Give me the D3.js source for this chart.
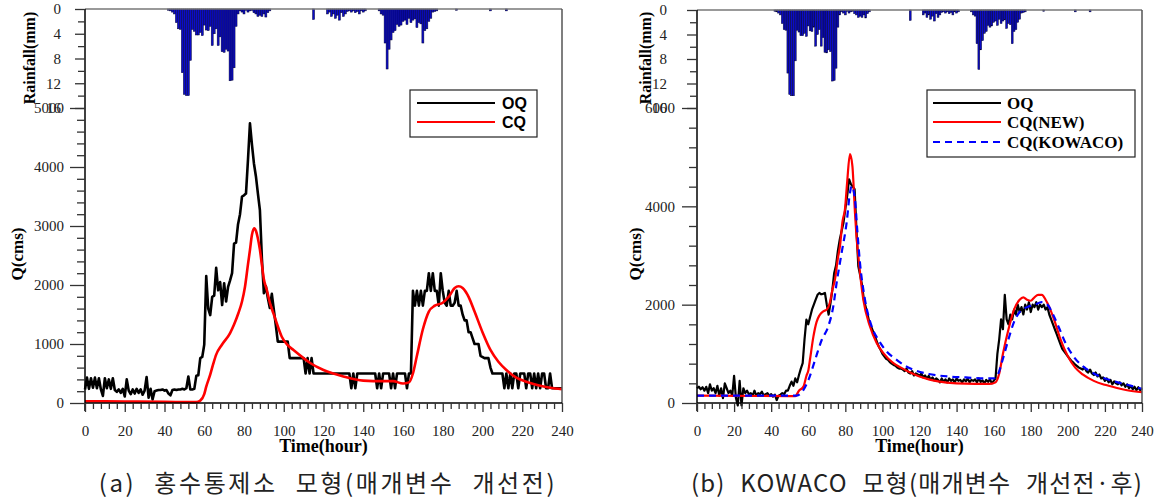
<!DOCTYPE html>
<html>
<head>
<meta charset="utf-8">
<script src="https://d3js.org/d3.v7.min.js"></script>
<style>
body { margin: 0; background: #fff; }
text { font-family: "Liberation Serif", "Times New Roman", serif; }
</style>
</head>
<body>
<script>
var w = 1161;
var h = 500;

// hourly rainfall (hour, mm)
var rainfall = [
  [42,0.2],[43,0.3],[44,0.5],[45,0.8],[46,2.2],[47,3.2],[48,3.3],[49,10.3],[50,13.8],[51,14],
  [52,14],[53,8.3],[54,3.3],[55,3.6],[56,4.2],[57,4.2],[58,3.8],[59,4.3],[60,2.6],[61,3.4],
  [62,3.5],[63,2.8],[64,5.9],[65,4],[66,3.2],[67,5.9],[68,4.5],[69,6.9],[70,7],[71,6.5],
  [72,6.8],[73,11.6],[74,11.5],[75,9.5],[76,2.8],[77,0.8],[78,0.3],[79,0.5],[80,0.8],[81,0.2],
  [82,0.5],[83,0.3],[84,0.2],[85,0.6],[86,0.8],[87,1.2],[88,1.0],[89,1.2],[90,0.8],[91,1.3],
  [92,0.6],[93,0.3],[115,1.7],[122,0.8],[123,0.5],[124,1.2],[125,0.8],[126,1.5],[127,1.0],
  [128,1.8],[129,0.6],[130,1.2],[131,0.8],[132,0.4],[133,0.3],[134,0.5],[135,0.3],[136,0.6],
  [137,0.4],[138,0.8],[139,0.3],[140,0.5],[141,0.3],[148,0.3],[149,0.8],[150,1.0],[151,5.5],
  [152,9.7],[153,6.5],[154,5.0],[155,3.8],[156,3.5],[157,2.5],[158,2.8],[159,2.6],[160,2.0],
  [161,1.8],[162,2.5],[163,1.5],[164,2.2],[165,1.8],[166,1.6],[167,3.0],[168,2.2],[169,2.4],
  [170,5.5],[171,3.5],[172,3.2],[173,2.0],[174,1.5],[175,0.5],[176,0.4],[177,0.3],[187,0.2],
  [204,0.3],[212,0.3]
];

// (a) observed and computed discharge
var oqA = [
  [0,230],[1,430],[2,240],[3,420],[4,260],[5,430],[6,250],[7,420],[8,230],[9,120],
  [10,420],[11,250],[12,400],[13,240],[14,420],[15,220],[16,190],[17,230],[18,170],[19,240],
  [20,110],[21,400],[22,210],[23,150],[24,230],[25,160],[26,240],[27,170],[28,230],[29,140],
  [30,210],[31,440],[32,90],[33,240],[34,60],[35,200],[36,210],[37,220],[38,220],[39,230],
  [40,210],[41,220],[42,160],[43,130],[44,220],[45,230],[46,220],[47,230],[48,230],[49,240],
  [50,230],[51,250],[52,450],[53,230],[54,230],[55,240],[56,460],[57,470],[58,760],[59,780],
  [60,990],[61,2150],[62,1600],[63,1490],[64,1800],[65,1820],[66,2290],[67,1910],[68,2050],[69,1660],
  [70,2030],[71,1720],[72,1970],[73,2080],[74,2200],[75,2700],[76,2720],[77,3030],[78,3200],[79,3500],
  [80,3520],[81,3550],[82,4120],[83,4740],[84,4380],[85,4060],[86,3840],[87,3550],[88,3270],[89,2450],
  [90,1860],[91,1980],[92,1780],[93,1610],[94,1850],[95,1580],[96,1320],[97,1040],[102,1040],[103,760],
  [110,760],[111,500],[112,760],[113,500],[114,760],[115,500],[133,500],[134,250],[135,500],[136,250],
  [137,500],[146,500],[147,250],[148,500],[149,250],[150,500],[153,500],[154,250],[155,500],[156,250],
  [157,500],[161,500],[162,250],[163,500],[164,500],[165,1900],[166,1650],[167,1900],[168,1650],[169,1900],
  [170,1650],[171,1900],[172,1900],[173,2200],[174,1900],[175,2200],[176,1900],[177,1900],[178,1650],[179,2200],
  [180,1900],[181,1700],[182,1650],[183,1900],[184,1650],[185,1650],[186,1700],[187,1900],[188,1650],[189,1650],
  [190,1500],[191,1400],[192,1400],[193,1200],[194,1200],[195,1100],[196,1000],[198,1000],[199,800],[201,760],
  [203,760],[204,600],[205,500],[210,500],[211,250],[212,500],[213,250],[214,500],[215,250],[216,500],
  [217,500],[218,250],[219,500],[221,500],[222,250],[223,500],[224,500],[225,250],[226,500],[227,250],
  [228,500],[229,250],[230,500],[231,500],[232,250],[233,250],[234,500],[235,250],[240,250]
];
var cqA = [
  [0,30],[20,25],[40,20],[56,15],[58,40],[60,150],[61,277],[63,480],[64.6,672],[66,820],
  [68.8,983],[73,1186],[75,1330],[77.2,1525],[79,1720],[80.5,1971],[82,2350],[83,2593],[84,2850],[85.1,2960],
  [86,2920],[86.8,2819],[88,2600],[88.9,2370],[90,2100],[91.5,1915],[93,1700],[94.8,1520],[97,1300],[99,1124],
  [102,980],[104.9,898],[110,760],[113.3,678],[120,560],[125,500],[130,450],[140,380],[150,370],[155,370],
  [160,330],[163,350],[165,500],[167,800],[170,1250],[173,1550],[176,1650],[180,1700],[183,1800],[186,1950],
  [188,1980],[190,1950],[193,1800],[196,1550],[200,1200],[204,900],[208,700],[212,560],[217,430],[222,360],
  [228,300],[234,260],[240,235]
];

// (b) observed and computed discharge
var oqB = [
  [0,300],[1,330],[2,280],[3,320],[4,250],[5,330],[6,200],[7,380],[8,250],[9,300],
  [10,200],[11,350],[12,150],[13,300],[14,100],[15,400],[16,300],[17,200],[18,250],[19,150],
  [20,550],[21,100],[22,-50],[23,450],[24,-50],[25,300],[26,200],[27,250],[28,180],[29,200],
  [30,150],[31,250],[32,150],[33,200],[34,180],[35,230],[36,150],[37,180],[38,200],[39,150],
  [40,180],[41,130],[42,170],[43,60],[44,150],[45,170],[46,200],[47,180],[48,250],[49,250],
  [50,350],[51,435],[52,350],[53,500],[54,420],[55,570],[56,700],[57,810],[58,1300],[59,1694],
  [60,1600],[61,1750],[62,1898],[63,2000],[64,2102],[65,2200],[66,2238],[67,2211],[68,2220],[69,2238],
  [70,2000],[71,1796],[72,2034],[73,2300],[74,2646],[75,2800],[76,3100],[77,3327],[78,3500],[79,3667],
  [80,3950],[81,4211],[82,4551],[83,4450],[84,4400],[85,4350],[86,3531],[87,2782],[88,2600],[89,2400],
  [90,2100],[91,1950],[92,1800],[93,1626],[94,1550],[95,1450],[96,1354],[97,1250],[98,1150],[99,1082],
  [100,1000],[101,950],[102,900],[103,878],[104,830],[105,800],[106,775],[107,760],[108,720],[109,700],
  [110,700],[111,680],[112,650],[113,700],[114,620],[115,600],[116,650],[117,560],[118,600],[119,580],
  [120,550],[121,600],[122,520],[123,560],[124,500],[125,550],[126,480],[127,520],[128,460],[129,500],
  [130,470],[131,420],[132,500],[133,430],[134,480],[135,420],[136,500],[137,450],[138,480],[139,420],
  [140,500],[141,450],[142,470],[143,420],[144,480],[145,440],[146,500],[147,420],[148,470],[149,450],
  [150,480],[151,420],[152,500],[153,430],[154,460],[155,400],[156,470],[157,430],[158,480],[159,400],
  [160,450],[161,500],[162,1000],[163,1300],[164,1700],[165,1500],[166,2200],[167,1700],[168,1600],[169,1800],
  [170,1700],[171,1900],[172,1800],[173,2000],[174,1850],[175,1950],[176,1800],[177,2000],[178,1900],[179,2050],
  [180,1850],[181,2000],[182,1950],[183,2050],[184,1900],[185,2000],[186,1950],[187,2000],[188,1900],[189,1950],
  [190,1800],[191,1700],[192,1600],[193,1500],[194,1400],[195,1300],[196,1200],[197,1100],[198,1050],[199,1000],
  [200,950],[201,900],[202,850],[203,820],[204,780],[205,750],[206,720],[207,700],[208,680],[209,720],
  [210,650],[211,620],[212,680],[213,600],[214,570],[215,620],[216,540],[217,580],[218,500],[219,520],
  [220,450],[221,500],[222,420],[223,470],[224,380],[225,440],[226,400],[227,380],[228,420],[229,360],
  [230,400],[231,330],[232,380],[233,300],[234,350],[235,280],[236,330],[237,260],[238,320],[239,260],[240,300]
];
var cqNewB = [
  [0,150],[50,140],[53,140],[55,250],[57.4,333],[59,550],[60.1,673],[61,900],[62.8,1354],[64.5,1650],
  [66,1780],[68.1,1864],[70,1900],[71.6,2034],[73,2300],[74.4,2510],[76,2950],[77.1,3190],[78.5,3700],[79.8,3939],
  [81,4500],[82.5,5061],[83.8,4823],[85.2,3871],[86,3400],[87,2986],[89.7,2102],[93.3,1557],[96.9,1218],[100.5,1014],
  [105.9,810],[110,720],[115,620],[120,540],[125,480],[130,440],[140,400],[150,390],[158,390],[161,420],
  [163,600],[165,1000],[168,1500],[171,1900],[174,2100],[176,2150],[178,2100],[180,2080],[182,2150],[184,2200],
  [186,2200],[188,2100],[190,1950],[193,1650],[196,1300],[200,950],[204,720],[208,580],[214,450],[220,370],
  [226,310],[232,260],[240,220]
];
var cqKowacoB = [
  [0,150],[53.8,150],[57.4,265],[60.1,469],[63.7,878],[67.3,1286],[70.8,1557],[73.5,1965],[75.3,2442],[78,3054],
  [80.7,3667],[82.5,4279],[83.4,4415],[85.2,4143],[86.4,3531],[87.9,2850],[90.6,2102],[94.2,1557],[97.8,1286],[102.3,1048],
  [107.7,878],[112,760],[118,660],[125,590],[135,540],[145,520],[155,500],[160,500],[162,560],[165,900],
  [168,1300],[171,1650],[174,1850],[178,1950],[182,2000],[186,2050],[189,2000],[192,1800],[195,1550],[199,1200],
  [203,950],[208,750],[214,600],[220,500],[226,430],[232,370],[240,290]
];

var xTicks = [0, 20, 40, 60, 80, 100, 120, 140, 160, 180, 200, 220, 240];
var rainTicks = [0, 4, 8, 12, 16];
var qTicksA = [0, 1000, 2000, 3000, 4000, 5000];
var qTicksB = [0, 2000, 4000, 6000];

var serif = "'Liberation Serif', 'Times New Roman', serif";

var svg = d3.select("body").append("svg").attr("width", w).attr("height", h);

drawPanel({
  left: 85, right: 562, top: 9, qMax: 5000, qTicks: qTicksA, qMinorStep: 200,
  qPad: 6, rainPad: 14, qLabelX: 17, rainLabelX: 29, lineW: 2.6,
  series: [
    { data: oqA, color: "black", smooth: false },
    { data: cqA, color: "red", smooth: true }
  ],
  legend: { x: 410, y: 90, w: 127, h: 47, lineX1: 417, lineX2: 495, textX: 502, font: "'Liberation Sans', Arial, sans-serif", size: 16,
    items: [["OQ", "black", null], ["CQ", "red", null]], rowY: [103, 122] },
  caption: "(a) 홍수통제소 모형(매개변수 개선전)", capX: 328, capLs: 2.6, capWs: 10
});

drawPanel({
  left: 697, right: 1142, top: 10, qMax: 6000, qTicks: qTicksB, qMinorStep: 400,
  qPad: 7, rainPad: 20, qLabelX: 635, rainLabelX: 645, lineW: 2.2,
  series: [
    { data: oqB, color: "black", smooth: false },
    { data: cqNewB, color: "red", smooth: true },
    { data: cqKowacoB, color: "blue", smooth: true, dash: "7,5" }
  ],
  legend: { x: 927, y: 90, w: 208, h: 67, lineX1: 933, lineX2: 1001, textX: 1007, font: serif, size: 17,
    items: [["OQ", "black", null], ["CQ(NEW)", "red", null], ["CQ(KOWACO)", "blue", "7,5"]], rowY: [103, 122, 142] },
  caption: "(b) KOWACO 모형(매개변수 개선전·후)", capX: 917, capLs: 1.2, capWs: 8
});

function drawPanel(p) {
  var g = svg.append("g");
  var bottom = 403;

  var x = d3.scaleLinear().domain([0, 240]).range([p.left, p.right]);
  var q = d3.scaleLinear().domain([0, p.qMax]).range([bottom, 108]);
  var r = d3.scaleLinear().domain([0, 16]).range([p.top, 108]);

  // rainfall bars hang from the top
  g.selectAll(".bar")
    .data(rainfall)
    .enter().append("rect")
    .attr("class", "bar")
    .attr("x", function(d) { return x(d[0] - 0.5); })
    .attr("width", x(1) - x(0))
    .attr("y", r(0))
    .attr("height", function(d) { return r(d[1]) - r(0); })
    .attr("fill", "#0b0bc8")
    .attr("stroke", "#000030")
    .attr("stroke-width", 0.5);

  // discharge lines
  p.series.forEach(function(s) {
    var line = d3.line()
      .x(function(d) { return x(d[0]); })
      .y(function(d) { return q(d[1]); })
      .curve(s.smooth ? d3.curveMonotoneX : d3.curveLinear);
    g.append("path")
      .datum(s.data)
      .attr("d", line)
      .attr("fill", "none")
      .attr("stroke", s.color)
      .attr("stroke-width", p.lineW)
      .attr("stroke-linejoin", "round")
      .attr("stroke-dasharray", s.dash || null);
  });

  // frame
  g.append("line").attr("x1", p.left).attr("x2", p.right).attr("y1", p.top).attr("y2", p.top)
    .attr("stroke", "#777").attr("stroke-width", 1.5);
  g.append("line").attr("x1", p.right).attr("x2", p.right).attr("y1", p.top).attr("y2", bottom)
    .attr("stroke", "#555").attr("stroke-width", 1.5);
  g.append("line").attr("x1", p.left).attr("x2", p.left).attr("y1", p.top).attr("y2", bottom + 8)
    .attr("stroke", "black").attr("stroke-width", 1.5);
  g.append("line").attr("x1", p.left).attr("x2", p.right).attr("y1", bottom).attr("y2", bottom)
    .attr("stroke", "black").attr("stroke-width", 1.5);

  // x axis
  var xMinor = d3.range(0, 241, 4).filter(function(d) { return d % 20 != 0; });
  var xa = g.append("g").attr("transform", "translate(0," + bottom + ")");
  xa.call(d3.axisBottom(x).tickValues(xMinor).tickSize(6).tickFormat(""));
  var xb = g.append("g").attr("transform", "translate(0," + bottom + ")");
  xb.call(d3.axisBottom(x).tickValues(xTicks).tickSize(9).tickPadding(13).tickFormat(d3.format("d")));

  // Q axis
  var qMinor = d3.range(0, p.qMax, p.qMinorStep).filter(function(d) { return p.qTicks.indexOf(d) < 0; });
  var qa = g.append("g").attr("transform", "translate(" + p.left + ",0)");
  qa.call(d3.axisLeft(q).tickValues(qMinor).tickSize(8).tickFormat(""));
  var qb = g.append("g").attr("transform", "translate(" + p.left + ",0)");
  qb.call(d3.axisLeft(q).tickValues(p.qTicks).tickSize(15).tickPadding(p.qPad).tickFormat(d3.format("d")));

  // rainfall axis
  var ra = g.append("g").attr("transform", "translate(" + p.left + ",0)");
  ra.call(d3.axisLeft(r).tickValues([2, 6, 10, 14]).tickSize(7).tickFormat(""));
  var rb = g.append("g").attr("transform", "translate(" + p.left + ",0)");
  rb.call(d3.axisLeft(r).tickValues(rainTicks).tickSize(10).tickPadding(p.rainPad).tickFormat(d3.format("d")));

  g.selectAll(".domain").remove();
  g.selectAll(".tick line").attr("stroke", "#333").attr("stroke-width", 1.3);
  g.selectAll(".tick text")
    .attr("font-family", serif)
    .style("font-family", serif)
    .style("font-size", "15px")
    .attr("fill", "#222");

  // axis titles
  g.append("text")
    .attr("x", (p.left + p.right) / 2)
    .attr("y", 452)
    .attr("text-anchor", "middle")
    .style("font-family", serif)
    .style("font-size", "18px")
    .style("font-weight", "bold")
    .text("Time(hour)");

  g.append("text")
    .attr("transform", "translate(" + (p.qLabelX + 6) + ",254) rotate(-90)")
    .attr("text-anchor", "middle")
    .style("font-family", serif)
    .style("font-size", "17px")
    .style("font-weight", "bold")
    .text("Q(cms)");

  g.append("text")
    .attr("transform", "translate(" + (p.rainLabelX + 6) + ",58) rotate(-90)")
    .attr("text-anchor", "middle")
    .style("font-family", serif)
    .style("font-size", "16px")
    .style("font-weight", "bold")
    .text("Rainfall(mm)");

  // legend
  var L = p.legend;
  var lg = g.append("g");
  lg.append("rect")
    .attr("x", L.x).attr("y", L.y).attr("width", L.w).attr("height", L.h)
    .attr("fill", "white").attr("stroke", "#222").attr("stroke-width", 1.2);
  L.items.forEach(function(it, i) {
    lg.append("line")
      .attr("x1", L.lineX1).attr("x2", L.lineX2)
      .attr("y1", L.rowY[i]).attr("y2", L.rowY[i])
      .attr("stroke", it[1]).attr("stroke-width", 2.2)
      .attr("stroke-dasharray", it[2]);
    lg.append("text")
      .attr("x", L.textX).attr("y", L.rowY[i] + 5.5)
      .style("font-family", L.font)
      .style("font-size", L.size + "px")
      .style("font-weight", "bold")
      .text(it[0]);
  });

  // caption
  g.append("text")
    .attr("x", p.capX)
    .attr("y", 492)
    .attr("text-anchor", "middle")
    .style("font-family", "'Noto Sans CJK KR', sans-serif")
    .style("font-size", "24px")
    .style("letter-spacing", p.capLs + "px")
    .style("word-spacing", p.capWs + "px")
    .attr("fill", "#222")
    .text(p.caption);
}
</script>
</body>
</html>
